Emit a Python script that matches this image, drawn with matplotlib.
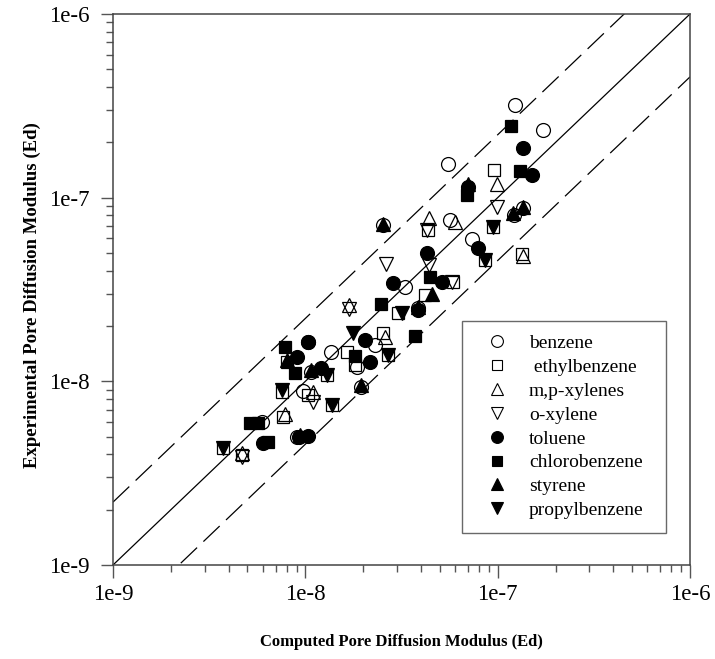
import matplotlib
matplotlib.use("Agg")
import matplotlib.pyplot as plt
from matplotlib.ticker import FixedLocator, NullFormatter, FuncFormatter
import numpy as np

# values in units of 1e-9 (computed, experimental)
benzene_x = [123, 172, 55.2, 56.6, 73.3, 33.0, 23.0, 13.6, 10.3, 9.7, 5.95, 9.1,
             10.7, 38.7, 19.4, 25.4, 18.6, 121, 135]
benzene_y = [319, 235, 152, 75.5, 59.3, 32.6, 15.8, 14.5, 16.4, 8.9, 6.0, 5.0,
             11.3, 25.0, 9.35, 70.9, 12.0, 80.4, 87.4]

ethyl_x = [95.8, 43.6, 133.5, 41.9, 30.4, 25.4, 16.4, 18.1, 27.0, 12.9, 10.3, 7.68,
           3.72, 4.67, 58.8, 86.0, 95.0, 13.7, 7.54, 8.0]
ethyl_y = [141.3, 66.6, 49.3, 29.5, 23.5, 18.25, 14.5, 12.27, 13.9, 10.8, 8.42, 6.42,
           4.35, 3.97, 34.8, 45.7, 68.9, 7.43, 8.78, 12.8]

mp_x = [99.7, 44.1, 60.0, 135.5, 26.0, 16.9, 11.0, 7.84, 4.67]
mp_y = [118.6, 77.1, 73.7, 48.1, 17.5, 26.0, 8.78, 6.64, 4.07]

ox_x = [99.7, 26.3, 44.1, 57.7, 43.1, 16.9, 11.0, 4.67]
ox_y = [88.5, 43.5, 43.0, 34.8, 66.6, 24.9, 7.74, 3.85]

tol_x = [136, 150.4, 70.4, 43.1, 51.2, 28.7, 79.4, 38.7, 20.4, 21.7, 10.3, 9.02,
         12.1, 6.05, 10.3, 9.27]
tol_y = [186.9, 132.7, 114.6, 49.8, 34.8, 34.2, 53.0, 24.4, 16.8, 12.8, 16.4, 13.5,
         11.8, 4.6, 5.07, 4.97]

chloro_x = [117, 130.8, 69.1, 44.5, 37.2, 24.7, 18.1, 7.84, 8.84, 5.16, 5.68, 6.40]
chloro_y = [245.3, 140.1, 103.3, 37.1, 17.6, 26.4, 13.7, 15.4, 11.05, 5.93, 5.93, 4.69]

sty_x = [70.4, 25.4, 120.7, 135, 45.4, 38.7, 19.4, 8.0, 10.7, 9.38]
sty_y = [118.6, 71.8, 82.5, 89.4, 29.9, 25.4, 9.55, 13.1, 11.5, 5.1]

prop_x = [95.0, 86.0, 31.7, 17.8, 27.0, 12.9, 7.54, 13.7, 3.72]
prop_y = [68.9, 45.7, 23.5, 18.25, 13.9, 10.8, 8.97, 7.43, 4.35]

FACTOR = 2.2
lo, hi = 1e-9, 1e-6
decades = [1e-9, 1e-8, 1e-7, 1e-6]

series = [
    ("benzene", benzene_x, benzene_y, "o", False, 10),
    (" ethylbenzene", ethyl_x, ethyl_y, "s", False, 8.5),
    ("m,p-xylenes", mp_x, mp_y, "^", False, 10),
    ("o-xylene", ox_x, ox_y, "v", False, 10),
    ("toluene", tol_x, tol_y, "o", True, 10),
    ("chlorobenzene", chloro_x, chloro_y, "s", True, 8.5),
    ("styrene", sty_x, sty_y, "^", True, 10),
    ("propylbenzene", prop_x, prop_y, "v", True, 10),
]

plt.rcParams["font.family"] = ["Liberation Serif", "DejaVu Serif"]

fig = plt.figure(figsize=(7.15, 6.59), dpi=100)
ax = fig.add_axes([113 / 715, 1 - 565 / 659, 577 / 715, 551 / 659])

line = np.array([lo, hi])
ax.plot(line, line, color="black", lw=0.9, zorder=1)
ax.plot(line, line * FACTOR, color="black", lw=0.9, dashes=(18, 7), zorder=1)
ax.plot(line, line / FACTOR, color="black", lw=0.9, dashes=(18, 7), zorder=1)

handles = []
for name, xs, ys, mk, filled, ms in series:
    x = np.array(xs) * 1e-9
    y = np.array(ys) * 1e-9
    ax.plot(x, y, linestyle="none", marker=mk, markersize=ms,
            markerfacecolor="black" if filled else "none",
            markeredgecolor="black", markeredgewidth=0.9,
            zorder=3 if filled else 2)
    h, = ax.plot([], [], linestyle="none", marker=mk, markersize=ms * 0.85,
                 markerfacecolor="black" if filled else "none",
                 markeredgecolor="black", markeredgewidth=0.8, label=name)
    handles.append(h)

ax.set_xscale("log")
ax.set_yscale("log")
ax.set_xlim(lo, hi)
ax.set_ylim(lo, hi)

minors = [m * d for d in decades[:-1] for m in range(2, 10)]
fmt = FuncFormatter(lambda v, p: "1e%d" % int(round(np.log10(v))))
for axis in (ax.xaxis, ax.yaxis):
    axis.set_major_locator(FixedLocator(decades))
    axis.set_minor_locator(FixedLocator(minors))
    axis.set_major_formatter(fmt)
    axis.set_minor_formatter(NullFormatter())

ax.tick_params(which="both", direction="out", top=False, right=False,
               color="#555555", width=1.0)
ax.tick_params(which="major", length=9, labelsize=16.5, pad=5)
ax.tick_params(which="minor", length=5)
ax.tick_params(axis="y", which="major", pad=8)

for sp in ax.spines.values():
    sp.set_color("#444444")
    sp.set_linewidth(1.1)

ax.set_xlabel("Computed Pore Diffusion Modulus (Ed)", fontsize=12, fontweight="bold")
ax.set_ylabel("Experimental Pore Diffusion Modulus (Ed)", fontsize=13.5, fontweight="bold")
ax.xaxis.set_label_coords(0.5, -0.14)
ax.yaxis.set_label_coords(-0.14, 0.49)
ax.xaxis.label.set_va("center")
ax.yaxis.label.set_va("center")

leg = ax.legend(handles=handles, loc="lower left",
                bbox_to_anchor=(0.605, 0.058, 204 / 577, 0.3), mode="expand",
                borderaxespad=0, fontsize=14, frameon=True, fancybox=False,
                labelspacing=0.32, handlelength=2.1, handletextpad=0.62,
                borderpad=0.72)
leg.get_frame().set_edgecolor("#444444")
leg.get_frame().set_linewidth(1.0)

fig.savefig("out.png", dpi=100)
